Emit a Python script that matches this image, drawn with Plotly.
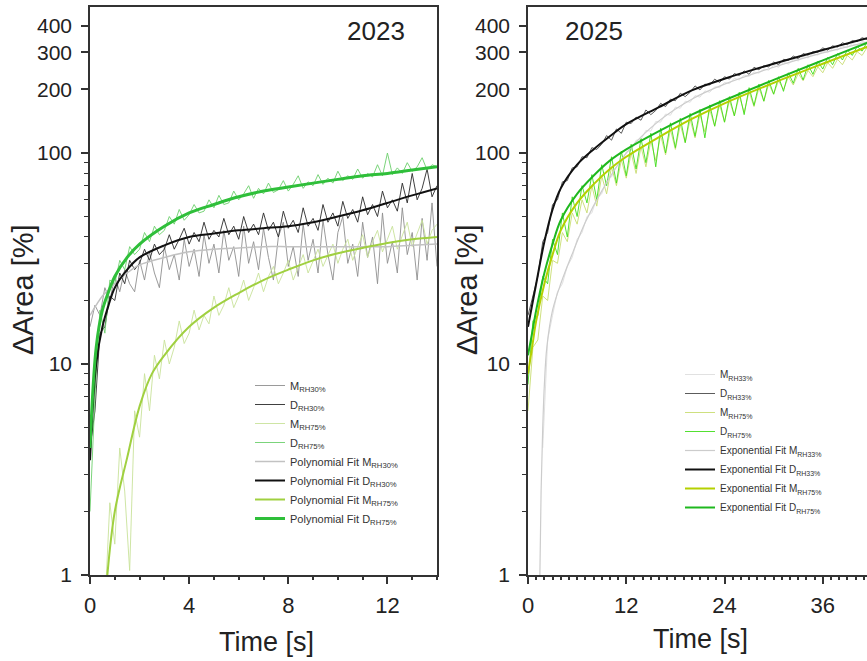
import plotly.graph_objects as go

# ---------------- 2023 panel data ----------------
t23 = [0, 0.2, 0.4, 0.6, 0.8, 1.0, 1.2, 1.4, 1.6, 1.8,
       2.0, 2.2, 2.4, 2.6, 2.8, 3.0, 3.2, 3.4, 3.6, 3.8,
       4.0, 4.2, 4.4, 4.6, 4.8, 5.0, 5.2, 5.4, 5.6, 5.8,
       6.0, 6.2, 6.4, 6.6, 6.8, 7.0, 7.2, 7.4, 7.6, 7.8,
       8.0, 8.2, 8.4, 8.6, 8.8, 9.0, 9.2, 9.4, 9.6, 9.8,
       10.0, 10.2, 10.4, 10.6, 10.8, 11.0, 11.2, 11.4, 11.6, 11.8,
       12.0, 12.2, 12.4, 12.6, 12.8, 13.0, 13.2, 13.4, 13.6, 13.8,
       14.0]
m30_23 = [15, 19, 17, 23, 20, 26, 22, 28, 24, 22,
          31, 25, 34, 27, 23, 36, 28, 33, 25, 39,
          29, 35, 26, 41, 30, 37, 27, 43, 31, 36,
          26, 45, 30, 38, 28, 44, 32, 25, 40, 47,
          29, 36, 26, 46, 31, 39, 27, 48, 33, 25,
          42, 50, 30, 37, 26, 47, 32, 40, 24, 52,
          30, 38, 27, 55, 33, 42, 25, 49, 31, 58,
          29]
d30_23 = [4, 6, 14, 15, 21, 20, 27, 24, 31, 28,
          30, 35, 31, 37, 33, 35, 41, 35, 39, 44,
          37, 42, 38, 47, 39, 43, 40, 49, 41, 45,
          39, 50, 42, 46, 41, 52, 43, 47, 40, 53,
          44, 48, 42, 55, 45, 49, 43, 57, 47, 52,
          45, 59, 49, 54, 47, 62, 51, 57, 50, 66,
          55, 60, 53, 72, 58, 80, 60, 68, 84, 62,
          70]
m75_23 = [None, None, None, 0.7, 2.2, 1.4, 4, 2.5, 1.05, 6,
          4.5, 9, 6, 11, 8.5, 13, 10, 12, 16, 12.5,
          14, 18, 14.5, 17, 15.5, 21, 17, 19, 23, 18.5,
          21, 25, 20, 23, 27, 22, 26, 29, 24, 27,
          31, 25, 29, 33, 27, 31, 35, 29, 33, 37,
          30, 35, 39, 31, 36, 41, 32, 38, 43, 34,
          39, 45, 35, 41, 47, 36, 42, 48, 37, 43,
          46]
d75_23 = [2, 7, 18, 14, 25, 24, 31, 28, 36, 33,
          35, 42, 38, 45, 41, 43, 50, 46, 54, 48,
          51, 57, 52, 53, 60, 55, 63, 57, 58, 66,
          60, 64, 70, 61, 68, 64, 72, 65, 67, 74,
          66, 71, 78, 68, 73, 70, 79, 71, 76, 72,
          82, 74, 78, 75, 84, 76, 80, 77, 88, 78,
          100, 79, 85, 80, 90, 82, 86, 95, 83, 88,
          86]

tfit23 = [0, 0.25, 0.5, 0.75, 1, 1.5, 2, 3, 4, 5, 6, 7, 8, 9, 10, 11, 12, 13, 14]
fit_m30_23 = [17, 19, 21, 22.5, 24, 27, 29.5, 32, 34, 35, 35.5, 36, 36, 36, 36, 36, 36, 36.5, 37]
fit_d30_23 = [3.5, 10, 15, 19, 23, 28, 32, 36.5, 40, 41.5, 43, 44, 45, 47, 50, 53.5, 58, 63, 68]
fit_d75_23 = [4, 12, 18, 22, 26, 32, 37, 45, 52, 57, 62, 66, 69, 72, 75, 78, 80, 83, 86]
tfit_m75_23 = [0.7, 1, 1.5, 2, 2.5, 3, 4, 5, 6, 7, 8, 9, 10, 11, 12, 13, 14]
fit_m75_23 = [1, 2, 3.6, 6.3, 9, 11, 15, 18.5, 21.7, 25, 28, 31, 33.5, 35.5, 37.5, 39, 40]

# ---------------- 2025 panel data ----------------
t25 = [0, 0.6, 1.2, 1.8, 2.4, 3.0, 3.6, 4.2, 4.8, 5.4,
       6.0, 6.6, 7.2, 7.8, 8.4, 9.0, 9.6, 10.2, 10.8, 11.4,
       12.0, 12.6, 13.2, 13.8, 14.4, 15.0, 15.6, 16.2, 16.8, 17.4,
       18.0, 18.6, 19.2, 19.8, 20.4, 21.0, 21.6, 22.2, 22.8, 23.4,
       24.0, 24.6, 25.2, 25.8, 26.4, 27.0, 27.6, 28.2, 28.8, 29.4,
       30.0, 30.6, 31.2, 31.8, 32.4, 33.0, 33.6, 34.2, 34.8, 35.4,
       36.0, 36.6, 37.2, 37.8, 38.4, 39.0, 39.6, 40.2, 40.8, 41.4,
       42.0]
m33_25 = [None, None, None, 4, 13, 17, 22, 24, 29, 32,
          39, 42, 50, 52, 61, 64, 74, 77, 86, 91,
          101, 103, 115, 116, 128, 127, 141, 140, 153, 151,
          165, 163, 176, 174, 187, 184, 197, 194, 206, 204,
          216, 213, 226, 222, 234, 231, 242, 239, 250, 247,
          260, 255, 269, 264, 278, 273, 287, 282, 296, 291,
          304, 299, 313, 307, 321, 316, 330, 324, 338, 333,
          344]
d33_25 = [17, 21, 26, 38, 42, 57, 60, 73, 74, 85,
          86, 96, 95, 106, 104, 110, 121, 115, 130, 124,
          140, 138, 148, 143, 160, 152, 159, 172, 166, 180,
          177, 192, 185, 194, 208, 199, 212, 210, 224, 216,
          230, 224, 238, 233, 245, 236, 255, 248, 259, 256,
          270, 262, 278, 275, 288, 280, 296, 291, 302, 300,
          315, 307, 322, 318, 333, 326, 341, 337, 352, 345,
          358]
m75_25 = [6, 12, 13, 21, 20, 31, 30, 42, 38, 52,
          46, 60, 52, 70, 56, 78, 64, 86, 70, 93,
          76, 100, 80, 107, 86, 114, 92, 121, 98, 129,
          104, 136, 112, 144, 118, 152, 126, 160, 134, 169,
          140, 177, 150, 186, 156, 195, 166, 203, 176, 212,
          190, 220, 200, 229, 210, 238, 220, 246, 230, 256,
          240, 268, 252, 278, 262, 290, 276, 302, 290, 316,
          320]
d75_25 = [8, 16, 17, 26, 24, 39, 33, 52, 40, 62,
          50, 70, 58, 79, 60, 88, 70, 96, 72, 102,
          78, 110, 84, 117, 90, 124, 86, 131, 100, 139,
          106, 146, 112, 154, 120, 161, 118, 169, 134, 177,
          140, 185, 150, 194, 152, 204, 168, 212, 176, 221,
          190, 230, 196, 240, 214, 252, 222, 262, 236, 272,
          250, 284, 262, 296, 276, 308, 290, 320, 304, 335,
          338]

tfit25 = [0, 0.5, 1, 2, 3, 4, 6, 8, 10, 12, 16, 20, 24, 30, 36, 42]
fit_d33_25 = [15, 19, 24, 38, 54, 68, 88, 104, 120, 137, 165, 198, 225, 265, 308, 355]
fit_d75_25 = [11, 14, 18, 27, 37, 48, 64, 78, 92, 104, 127, 152, 178, 222, 275, 340]
fit_m75_25 = [9, 12, 16, 24, 33, 43, 58, 71, 84, 96, 119, 145, 172, 215, 265, 325]
tfit_m33_25 = [1.45, 1.6, 1.8, 2.0, 2.3, 3, 4, 5.5, 7, 9, 12, 16, 20, 24, 30, 36, 42]
fit_m33_25 = [1, 2.5, 5, 8, 12, 18, 24, 34, 47, 66, 100, 142, 180, 212, 255, 298, 340]

y_ticks = [1, 10, 100, 200, 300, 400]
y_minor = [2, 3, 4, 5, 6, 7, 8, 9, 20, 30, 40, 50, 60, 70, 80, 90]

FONT = "Arial, Liberation Sans, sans-serif"
TXT = "#222222"

fig = go.Figure()

def add(x, y, name, color, width, xa, ya, leg, shape="linear"):
    fig.add_trace(go.Scatter(x=x, y=y, name=name, mode="lines",
                             line=dict(color=color, width=width, shape=shape),
                             xaxis=xa, yaxis=ya, legend=leg, connectgaps=False))

# left panel
add(t23, m30_23, "M<sub>RH30%</sub>", "#8e8e8e", 0.9, "x", "y", "legend")
add(t23, d30_23, "D<sub>RH30%</sub>", "#2a2a2a", 0.9, "x", "y", "legend")
add(t23, m75_23, "M<sub>RH75%</sub>", "#c8e29a", 0.9, "x", "y", "legend")
add(t23, d75_23, "D<sub>RH75%</sub>", "#6ccf6c", 0.9, "x", "y", "legend")
add(tfit23, fit_m30_23, "Polynomial Fit M<sub>RH30%</sub>", "#c2c2c2", 1.5, "x", "y", "legend", "spline")
add(tfit23, fit_d30_23, "Polynomial Fit D<sub>RH30%</sub>", "#111111", 2, "x", "y", "legend", "spline")
add(tfit_m75_23, fit_m75_23, "Polynomial Fit M<sub>RH75%</sub>", "#a0d040", 2, "x", "y", "legend", "spline")
add(tfit23, fit_d75_23, "Polynomial Fit D<sub>RH75%</sub>", "#2fbf3a", 3, "x", "y", "legend", "spline")

# right panel
add(t25, m33_25, "M<sub>RH33%</sub>", "#dedede", 0.9, "x2", "y2", "legend2")
add(t25, d33_25, "D<sub>RH33%</sub>", "#4a4a4a", 0.9, "x2", "y2", "legend2")
add(t25, m75_25, "M<sub>RH75%</sub>", "#c8dc70", 0.9, "x2", "y2", "legend2")
add(t25, d75_25, "D<sub>RH75%</sub>", "#3fdc1a", 0.9, "x2", "y2", "legend2")
add(tfit_m33_25, fit_m33_25, "Exponential Fit M<sub>RH33%</sub>", "#cccccc", 1.2, "x2", "y2", "legend2", "spline")
add(tfit25, fit_d33_25, "Exponential Fit D<sub>RH33%</sub>", "#111111", 2, "x2", "y2", "legend2", "spline")
add(tfit25, fit_m75_25, "Exponential Fit M<sub>RH75%</sub>", "#b5d000", 2, "x2", "y2", "legend2", "spline")
add(tfit25, fit_d75_25, "Exponential Fit D<sub>RH75%</sub>", "#1fb81f", 2, "x2", "y2", "legend2", "spline")

W, H = 867, 661
ydom = [1 - 575 / H, 1 - 7 / H]
axis_common = dict(showline=True, linecolor="#333333", linewidth=1.5, ticks="outside",
                   tickcolor="#333333", ticklen=7, tickwidth=1.5, showgrid=False, zeroline=False,
                   automargin=False)

yaxis_common = dict(axis_common, type="log", range=[0, 2.692], tickmode="array",
                    tickvals=y_ticks, ticktext=[str(v) for v in y_ticks], ticklabelstandoff=5,
                    tickfont=dict(family=FONT, size=21, color=TXT),
                    minor=dict(tickvals=y_minor, ticks="outside", ticklen=4, tickcolor="#333333", tickwidth=1))
xminor = dict(dtick=1, ticks="outside", ticklen=3, tickcolor="#333333", tickwidth=1.5)
xfont = dict(family=FONT, size=22, color=TXT)

def ann(text, x, y, size, angle=0):
    return dict(text=text, x=x / W, y=1 - y / H, xref="paper", yref="paper", showarrow=False,
                xanchor="center", yanchor="middle", textangle=angle,
                font=dict(family=FONT, size=size, color=TXT))

fig.update_layout(
    width=W, height=H, autosize=False, margin=dict(l=0, r=0, t=0, b=0, autoexpand=False),
    paper_bgcolor="white", plot_bgcolor="white", showlegend=True,
    xaxis=dict(axis_common, domain=[90 / W, 437 / W], range=[0, 14], dtick=4, tick0=0,
               mirror=True, anchor="y", ticklabelstandoff=3, minor=xminor, tickfont=xfont),
    yaxis=dict(yaxis_common, domain=ydom, mirror=True, anchor="x"),
    xaxis2=dict(axis_common, domain=[528 / W, 1.0], range=[0, 41.4], dtick=12, tick0=0,
                mirror=True, anchor="y2", ticklabelstandoff=3, minor=xminor, tickfont=xfont),
    yaxis2=dict(yaxis_common, domain=ydom, mirror=False, anchor="x2"),
    legend=dict(x=250 / W, y=1 - 371 / H, xanchor="left", yanchor="top",
                bgcolor="rgba(0,0,0,0)", font=dict(family=FONT, size=11, color="#333333"),
                tracegroupgap=0),
    legend2=dict(x=680 / W, y=1 - 360 / H, xanchor="left", yanchor="top",
                 bgcolor="rgba(0,0,0,0)", font=dict(family=FONT, size=10, color="#333333"),
                 tracegroupgap=0),
    annotations=[
        ann("2023", 376, 31, 26),
        ann("2025", 594, 31, 26),
        ann("ΔArea [%]", 23, 290, 29, -90),
        ann("ΔArea [%]", 467, 290, 29, -90),
        ann("Time [s]", 266, 642, 27),
        ann("Time [s]", 700, 639, 27),
    ],
)

fig.write_html("out.html", config={"displayModeBar": False, "responsive": False},
               post_script="document.body.style.margin='0px';")
